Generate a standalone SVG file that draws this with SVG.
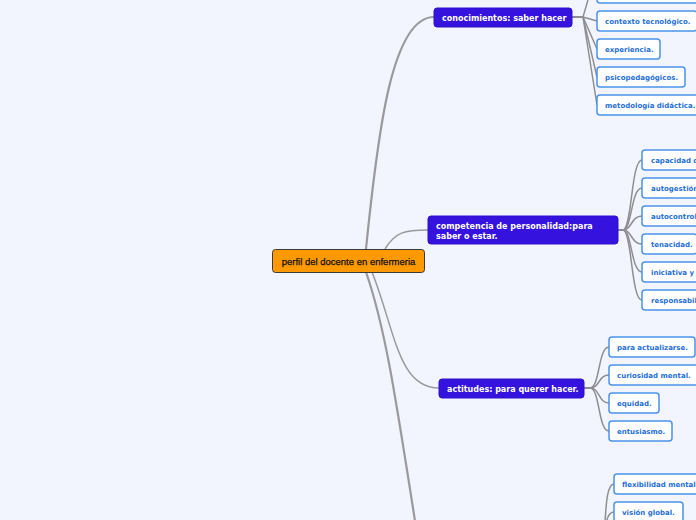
<svg xmlns="http://www.w3.org/2000/svg" width="696" height="520" viewBox="0 0 696 520">
<style>
.bg{fill:#f2f5fe}
.root rect{fill:#ff9900;stroke:#3a3a3a;stroke-width:1}
.root text{font-family:"Liberation Sans",Arial,sans-serif;font-size:9.5px;fill:#111;stroke:#111;stroke-width:0.25}
.main rect{fill:#3512dd;stroke:#3010cc;stroke-width:1}
.main text{font-family:"DejaVu Sans",Verdana,sans-serif;font-weight:bold;font-size:8px;fill:#fff}
.sub rect{fill:#fff;stroke:#4a93ea;stroke-width:1.5}
.sub text{font-family:"DejaVu Sans",Verdana,sans-serif;font-weight:bold;font-size:7px;fill:#1f6fd6}
.c{fill:none;stroke:#9a9a9e;stroke-width:1.5}
.ct{fill:none;stroke:#9a9a9e;stroke-width:2.2}
.cs{fill:none;stroke:#8f8f93;stroke-width:1.5}
</style>
<rect class="bg" x="0" y="0" width="696" height="520"/>
<g id="connectors">
<path class="ct" d="M366 249 C378 130 392 17 434 17"/>
<path class="c" d="M385 249 C395 232 405 230 428 230"/>
<path class="c" d="M372 272 C395 330 398 388 439 388"/>
<path class="ct" d="M366 272 C386 330 396 400 418 540"/>
<path class="cs" d="M572 17 H583 L590 -7 H597"/>
<path class="cs" d="M572 17 H583 L597 21"/>
<path class="cs" d="M572 17 H583 L597 49"/>
<path class="cs" d="M572 17 H583 L597 77"/>
<path class="cs" d="M572 17 H583 L597 105"/>
<path class="cs" d="M618 230 H623 C632 230 631 160 642 160"/>
<path class="cs" d="M618 230 H623 C632 230 631 188 642 188"/>
<path class="cs" d="M618 230 H623 C632 230 631 216 642 216"/>
<path class="cs" d="M618 230 H623 C632 230 631 244 642 244"/>
<path class="cs" d="M618 230 H623 C632 230 631 272 642 272"/>
<path class="cs" d="M618 230 H623 C632 230 631 300 642 300"/>
<path class="cs" d="M584 388 H590 C600 388 598 347 609 347"/>
<path class="cs" d="M584 388 H590 C600 388 598 375 609 375"/>
<path class="cs" d="M584 388 H590 C600 388 598 403 609 403"/>
<path class="cs" d="M584 388 H590 C600 388 598 431 609 431"/>
<path class="cs" d="M600 545 C608 545 602 484 614 484"/>
<path class="cs" d="M600 545 C608 545 602 512 614 512"/>
</g>
<g id="root" class="root"><rect x="272.5" y="249.5" width="152" height="23" rx="3"/><text x="348.5" y="264.5" text-anchor="middle">perfil del docente en enfermeria</text></g>
<g id="n1" class="main"><rect x="434" y="8" width="138" height="19" rx="3"/><text x="442" y="20.5">conocimientos: saber hacer</text></g>
<g id="n2" class="main"><rect x="428" y="216" width="190" height="28" rx="3"/><text x="436" y="228.5">competencia de personalidad:para</text><text x="436" y="238.5">saber o estar.</text></g>
<g id="n3" class="main"><rect x="439" y="379" width="145" height="19" rx="3"/><text x="447" y="391.5">actitudes: para querer hacer.</text></g>
<g id="n1a" class="sub"><rect x="597" y="-17" width="120" height="20" rx="3"/></g>
<g id="n1b" class="sub"><rect x="597" y="11" width="100" height="20" rx="3"/><text x="605" y="23.5">contexto tecnológico.</text></g>
<g id="n1c" class="sub"><rect x="597" y="39" width="63" height="20" rx="3"/><text x="605" y="51.5">experiencia.</text></g>
<g id="n1d" class="sub"><rect x="597" y="67" width="88" height="20" rx="3"/><text x="605" y="79.5">psicopedagógicos.</text></g>
<g id="n1e" class="sub"><rect x="597" y="95" width="110" height="20" rx="3"/><text x="605" y="107.5">metodología didáctica.</text></g>
<g id="n2a" class="sub"><rect x="642" y="150" width="80" height="20" rx="3"/><text x="651" y="162.5">capacidad de</text></g>
<g id="n2b" class="sub"><rect x="642" y="178" width="80" height="20" rx="3"/><text x="651" y="190.5">autogestión</text></g>
<g id="n2c" class="sub"><rect x="642" y="206" width="80" height="20" rx="3"/><text x="651" y="218.5">autocontrol</text></g>
<g id="n2d" class="sub"><rect x="642" y="234" width="55" height="20" rx="3"/><text x="651" y="246.5">tenacidad.</text></g>
<g id="n2e" class="sub"><rect x="642" y="262" width="80" height="20" rx="3"/><text x="651" y="274.5">iniciativa y</text></g>
<g id="n2f" class="sub"><rect x="642" y="290" width="80" height="20" rx="3"/><text x="651" y="302.5">responsabilidad</text></g>
<g id="n3a" class="sub"><rect x="609" y="337" width="86" height="20" rx="3"/><text x="617" y="349.5">para actualizarse.</text></g>
<g id="n3b" class="sub"><rect x="609" y="365" width="90" height="20" rx="3"/><text x="617" y="377.5">curiosidad mental.</text></g>
<g id="n3c" class="sub"><rect x="609" y="393" width="50" height="20" rx="3"/><text x="617" y="405.5">equidad.</text></g>
<g id="n3d" class="sub"><rect x="609" y="421" width="63" height="20" rx="3"/><text x="617" y="433.5">entusiasmo.</text></g>
<g id="n4a" class="sub"><rect x="614" y="474" width="100" height="20" rx="3"/><text x="622" y="486.5">flexibilidad mental.</text></g>
<g id="n4b" class="sub"><rect x="614" y="502" width="69" height="20" rx="3"/><text x="622" y="514.5">visión global.</text></g>
</svg>
